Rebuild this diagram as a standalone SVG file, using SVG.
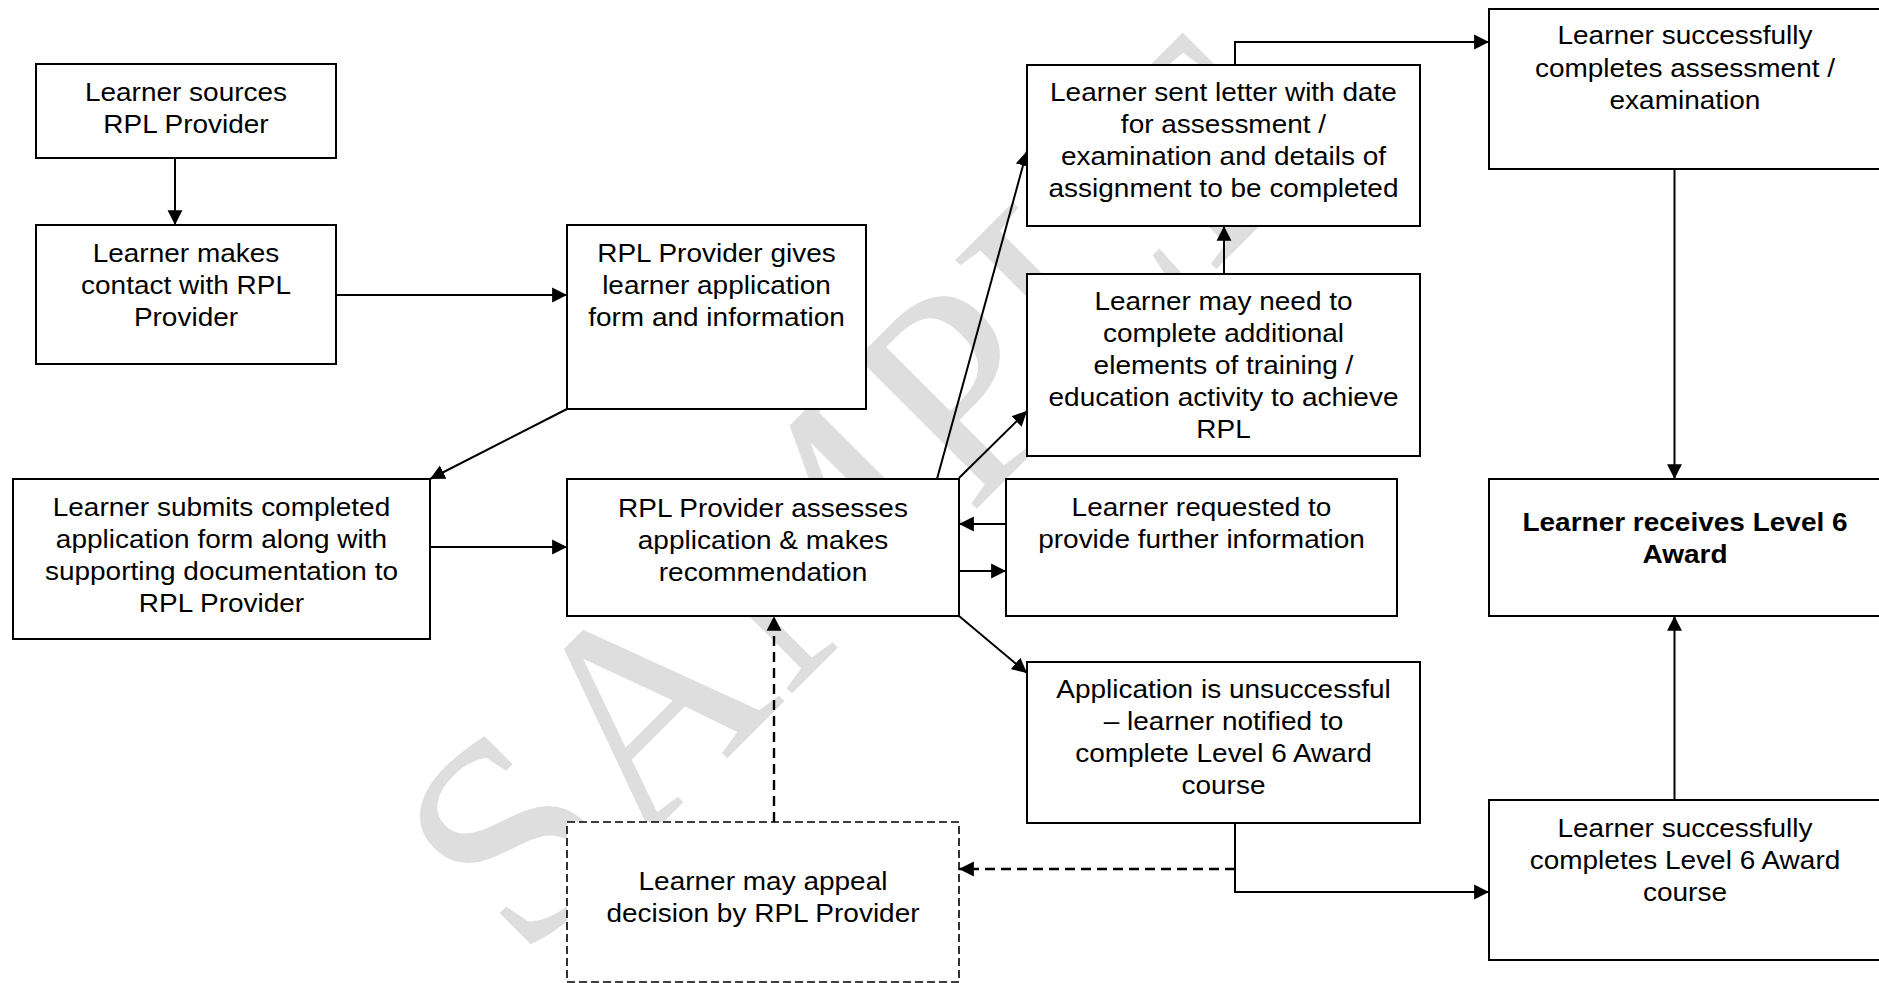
<svg xmlns="http://www.w3.org/2000/svg" width="1879" height="983" viewBox="0 0 1879 983">
<style>
.bg{fill:#ffffff}
.wm{font-family:"Liberation Serif","Times New Roman",serif;font-size:292px;fill:#dedede}
.box{fill:#ffffff;stroke:#000;stroke-width:2}
.dbox{fill:#ffffff;stroke:#000;stroke-width:1.6;stroke-dasharray:8 4}
.t{font-family:"Liberation Sans",Arial,sans-serif;font-size:26px;fill:#000;text-anchor:middle}
.b{font-weight:bold}
.c{fill:none;stroke:#000;stroke-width:2;marker-end:url(#ah)}
.d{fill:none;stroke:#000;stroke-width:2.4;stroke-dasharray:10 6;marker-end:url(#ah)}
</style>
<defs>
<marker id="ah" markerUnits="userSpaceOnUse" markerWidth="16" markerHeight="16" viewBox="0 0 14 14" refX="13" refY="7" orient="auto">
<path d="M0,0.5 L13,7 L0,13.5 Z" fill="#000"/>
</marker>
</defs>
<rect class="bg" x="0" y="0" width="1879" height="983"/>
<text class="wm" transform="translate(522,963.5) rotate(-45)">SAMPLE</text>

<g id="connectors">
<path class="c" d="M175,158 V225"/>
<path class="c" d="M336,295 H567"/>
<path class="c" d="M567,409 L430,479"/>
<path class="c" d="M430,547 H567"/>
<path class="c" d="M937,479 L1027,151"/>
<path class="c" d="M959,478 L1027,411"/>
<path class="c" d="M1006,524 H959"/>
<path class="c" d="M959,571 H1006"/>
<path class="c" d="M959,616 L1027,673"/>
<path class="c" d="M1224,274 V226"/>
<path class="c" d="M1235,65 V42 H1489"/>
<path class="c" d="M1674.5,169 V479"/>
<path class="c" d="M1674.5,800 V616"/>
<path class="c" d="M1235,823 V892 H1489"/>
<path class="d" d="M1235,869 H959"/>
<path class="d" d="M774,822 V616"/>
</g>

<g id="n1">
<rect class="box" x="36" y="64" width="300" height="94"/>
<g transform="scale(1.077,1)">
<text class="t" x="172.70" y="101">Learner sources</text>
<text class="t" x="172.70" y="133">RPL Provider</text>
</g>
</g>
<g id="n2">
<rect class="box" x="36" y="225" width="300" height="139"/>
<g transform="scale(1.077,1)">
<text class="t" x="172.70" y="262">Learner makes</text>
<text class="t" x="172.70" y="294">contact with RPL</text>
<text class="t" x="172.70" y="326">Provider</text>
</g>
</g>
<g id="n3">
<rect class="box" x="567" y="225" width="299" height="184"/>
<g transform="scale(1.077,1)">
<text class="t" x="665.27" y="262">RPL Provider gives</text>
<text class="t" x="665.27" y="294">learner application</text>
<text class="t" x="665.27" y="326">form and information</text>
</g>
</g>
<g id="n4">
<rect class="box" x="13" y="479" width="417" height="160"/>
<g transform="scale(1.077,1)">
<text class="t" x="205.66" y="516">Learner submits completed</text>
<text class="t" x="205.66" y="548">application form along with</text>
<text class="t" x="205.66" y="580">supporting documentation to</text>
<text class="t" x="205.66" y="612">RPL Provider</text>
</g>
</g>
<g id="n5">
<rect class="box" x="567" y="479" width="392" height="137"/>
<g transform="scale(1.077,1)">
<text class="t" x="708.45" y="517">RPL Provider assesses</text>
<text class="t" x="708.45" y="549">application &amp; makes</text>
<text class="t" x="708.45" y="581">recommendation</text>
</g>
</g>
<g id="n6">
<rect class="dbox" x="567" y="822" width="392" height="160"/>
<g transform="scale(1.077,1)">
<text class="t" x="708.45" y="890">Learner may appeal</text>
<text class="t" x="708.45" y="922">decision by RPL Provider</text>
</g>
</g>
<g id="n7">
<rect class="box" x="1027" y="65" width="393" height="161"/>
<g transform="scale(1.077,1)">
<text class="t" x="1136.03" y="101">Learner sent letter with date</text>
<text class="t" x="1136.03" y="133">for assessment /</text>
<text class="t" x="1136.03" y="165">examination and details of</text>
<text class="t" x="1136.03" y="197">assignment to be completed</text>
</g>
</g>
<g id="n8">
<rect class="box" x="1027" y="274" width="393" height="182"/>
<g transform="scale(1.077,1)">
<text class="t" x="1136.03" y="310">Learner may need to</text>
<text class="t" x="1136.03" y="342">complete additional</text>
<text class="t" x="1136.03" y="374">elements of training /</text>
<text class="t" x="1136.03" y="406">education activity to achieve</text>
<text class="t" x="1136.03" y="438">RPL</text>
</g>
</g>
<g id="n9">
<rect class="box" x="1006" y="479" width="391" height="137"/>
<g transform="scale(1.077,1)">
<text class="t" x="1115.60" y="516">Learner requested to</text>
<text class="t" x="1115.60" y="548">provide further information</text>
</g>
</g>
<g id="n10">
<rect class="box" x="1027" y="662" width="393" height="161"/>
<g transform="scale(1.077,1)">
<text class="t" x="1136.03" y="698">Application is unsuccessful</text>
<text class="t" x="1136.03" y="730">– learner notified to</text>
<text class="t" x="1136.03" y="762">complete Level 6 Award</text>
<text class="t" x="1136.03" y="794">course</text>
</g>
</g>
<g id="n11">
<rect class="box" x="1489" y="9" width="393" height="160"/>
<g transform="scale(1.077,1)">
<text class="t" x="1564.53" y="44">Learner successfully</text>
<text class="t" x="1564.53" y="77">completes assessment /</text>
<text class="t" x="1564.53" y="109">examination</text>
</g>
</g>
<g id="n12">
<rect class="box" x="1489" y="479" width="393" height="137"/>
<g transform="scale(1.077,1)">
<text class="t b" x="1564.53" y="531">Learner receives Level 6</text>
<text class="t b" x="1564.53" y="563">Award</text>
</g>
</g>
<g id="n13">
<rect class="box" x="1489" y="800" width="393" height="160"/>
<g transform="scale(1.077,1)">
<text class="t" x="1564.53" y="837">Learner successfully</text>
<text class="t" x="1564.53" y="869">completes Level 6 Award</text>
<text class="t" x="1564.53" y="901">course</text>
</g>
</g>
</svg>
